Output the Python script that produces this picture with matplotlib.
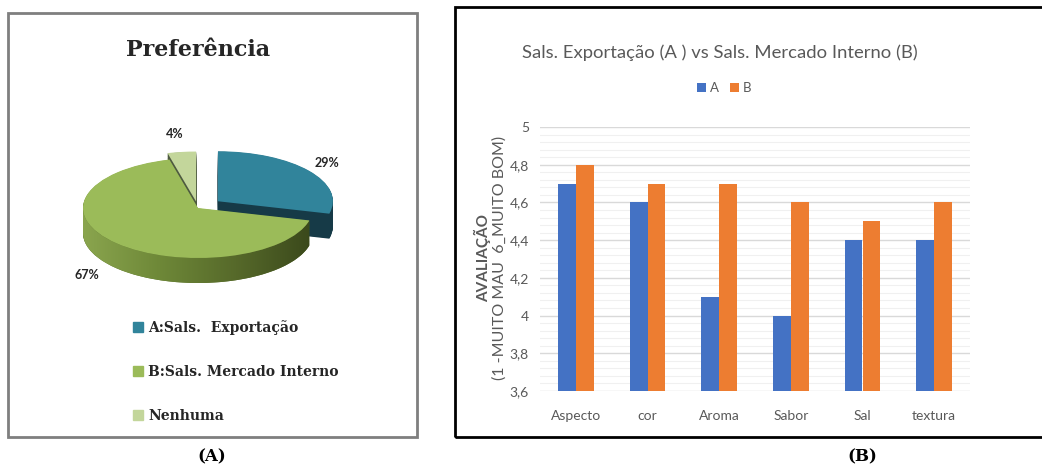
import numpy as np
import matplotlib
matplotlib.use('Agg')
from matplotlib import pyplot as plt
from matplotlib.patches import Rectangle, Patch, Polygon
from matplotlib.colors import LinearSegmentedColormap

plt.rcParams['font.family'] = ['Lato', 'DejaVu Sans']

# (A) preferência
pie_labels = ['A:Sals.  Exportação', 'B:Sals. Mercado Interno', 'Nenhuma']
pie_values = [29, 67, 4]
pie_explode = [0.22, 0, 0.13]
pie_colors = ['#31849B', '#9BBB59', '#C3D69B']
pie_side = ['#163A47', '#5E7330', '#4D5940']

# (B) avaliação
categorias = ['Aspecto', 'cor', 'Aroma', 'Sabor', 'Sal', 'textura']
serie_a = [4.7, 4.6, 4.1, 4.0, 4.4, 4.4]
serie_b = [4.8, 4.7, 4.7, 4.6, 4.5, 4.6]

W, H = 1042, 466
fig = plt.figure(figsize=(W / 100, H / 100), dpi=100)


def fx(px):
    return px / W


def fy(py):
    return 1 - py / H


# molduras
fig.add_artist(Rectangle((fx(8), fy(437)), fx(409), 424 / H, transform=fig.transFigure,
                         fill=False, ec='#7F7F7F', lw=2))
fig.add_artist(Rectangle((fx(455), fy(437)), fx(620), 430 / H, transform=fig.transFigure,
                         fill=False, ec='black', lw=2))

# ---- pizza 3D ----
depth = 0.5
ax_p = fig.add_axes([fx(60), fy(305), fx(300), 190 / H])
for d in np.linspace(depth, 0.01, 40):
    ax_p.pie(pie_values, explode=pie_explode, colors=pie_side, startangle=90,
             counterclock=False, center=(0, -d), wedgeprops=dict(linewidth=0))

# lateral da fatia verde com degradê
ang0 = 90 - 360 * pie_values[0] / sum(pie_values)
th = np.radians(np.linspace(ang0, -180, 120))
face = np.vstack([np.column_stack([np.cos(th), np.sin(th)]),
                  np.column_stack([np.cos(th[::-1]), np.sin(th[::-1]) - depth])])
clip = Polygon(face, closed=True, transform=ax_p.transData, facecolor='none', edgecolor='none')
ax_p.add_patch(clip)
cmap = LinearSegmentedColormap.from_list('lado', ['#8AA54E', '#6E8838', '#56692A', '#3A481B'])
img = ax_p.imshow(np.linspace(0, 1, 256)[None, :], cmap=cmap, aspect='auto',
                  extent=(-1, 1, -1 - depth, 0), zorder=1.5)
img.set_clip_path(clip)

ax_p.pie(pie_values, explode=pie_explode, colors=pie_colors, startangle=90,
         counterclock=False, center=(0, 0), wedgeprops=dict(linewidth=0, zorder=2))
ax_p.set_aspect('auto')
ax_p.set_xlim(-1.2, 1.409)
ax_p.set_ylim(-1.94, 1.86)
ax_p.axis('off')

pct_pos = [(1.12, 0.9), (-0.97, -1.34), (-0.2, 1.48)]
for v, (px, py) in zip(pie_values, pct_pos):
    ax_p.text(px, py, f'{v}%', ha='center', va='center', fontsize=9,
              fontweight='bold', color='#262626', zorder=3)

fig.text(fx(198), fy(50), 'Preferência', ha='center', va='center',
         family='DejaVu Serif', fontweight='bold', fontsize=16, color='#262626')

handles = [Patch(color=c) for c in pie_colors]
fig.legend(handles, pie_labels, loc='upper left', bbox_to_anchor=(fx(133), fy(320)),
           frameon=False, prop=dict(family='DejaVu Serif', weight='bold', size=10),
           labelspacing=2.15, handlelength=0.7, handleheight=0.7, handletextpad=0.4,
           borderpad=0, borderaxespad=0, labelcolor='#262626')

# ---- barras ----
ax = fig.add_axes([fx(540), fy(391), fx(430), 264 / H])
x = np.arange(len(categorias))
w = 0.25
ax.bar(x - w / 2, serie_a, w, color='#4472C4', label='A', zorder=3)
ax.bar(x + w / 2, serie_b, w, color='#ED7D31', label='B', zorder=3)
ax.set_xlim(-0.5, len(categorias) - 0.5)
ax.set_ylim(3.6, 5)
yt = np.round(np.arange(3.6, 5.001, 0.2), 1)
ax.set_yticks(yt)
ax.set_yticklabels([('%g' % v).replace('.', ',') for v in yt])
ax.set_yticks(np.arange(3.6, 5.001, 0.04), minor=True)
ax.set_xticks(x)
ax.set_xticklabels(categorias)
ax.grid(axis='y', which='major', color='#D9D9D9', lw=1, zorder=0)
ax.grid(axis='y', which='minor', color='#F0F0F0', lw=0.8, zorder=0)
ax.tick_params(which='both', length=0, colors='#595959', labelsize=10)
ax.tick_params(axis='x', pad=14)
ax.tick_params(axis='y', pad=8)
for s in ax.spines.values():
    s.set_visible(False)

fig.legend(*ax.get_legend_handles_labels(), loc='center', bbox_to_anchor=(fx(724), fy(88)),
           ncol=2, frameon=False, handlelength=0.7, handleheight=0.7, handletextpad=0.3,
           columnspacing=0.8, fontsize=9.5, labelcolor='#595959')

fig.text(fx(720), fy(53), 'Sals. Exportação (A ) vs Sals. Mercado Interno (B)',
         ha='center', va='center', fontsize=13.3, color='#595959')
fig.text(fx(483), fy(258), 'AVALIAÇÃO', rotation=90, ha='center', va='center',
         fontsize=11, fontweight='bold', color='#595959')
fig.text(fx(500), fy(258), '(1 -MUITO MAU  6_MUITO BOM)', rotation=90, ha='center',
         va='center', fontsize=11.5, color='#595959')

fig.text(fx(212), fy(457), '(A)', ha='center', va='center', family='DejaVu Serif',
         fontweight='bold', fontsize=12)
fig.text(fx(862), fy(457), '(B)', ha='center', va='center', family='DejaVu Serif',
         fontweight='bold', fontsize=12)

fig.savefig('out.png', dpi=100)
